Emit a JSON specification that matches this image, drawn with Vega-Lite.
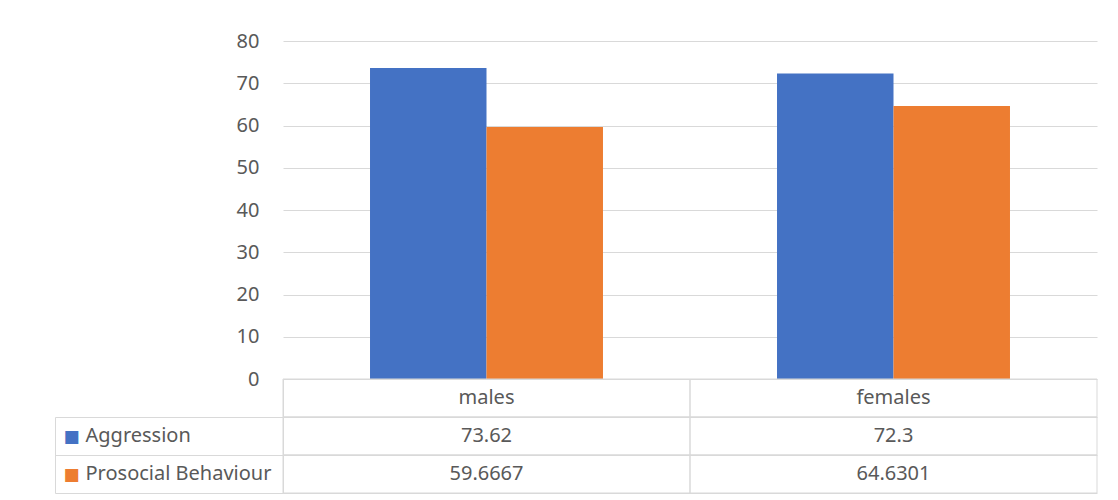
{
  "$schema": "https://vega.github.io/schema/vega-lite/v6.json",
  "autosize": {"type": "none"},
  "padding": {"left": 283, "top": 41, "right": 21, "bottom": 7},
  "width": 814,
  "height": 452,
  "background": "white",
  "config": {"view": {"stroke": null}, "text": {"font": "Noto Sans"}},
  "data": {
    "values": [
      {"category": "males", "series": "Aggression", "value": 73.62},
      {"category": "males", "series": "Prosocial Behaviour", "value": 59.6667},
      {"category": "females", "series": "Aggression", "value": 72.3},
      {"category": "females", "series": "Prosocial Behaviour", "value": 64.6301}
    ]
  },
  "resolve": {"scale": {"y": "independent"}},
  "layer": [
    {
      "mark": {"type": "bar"},
      "encoding": {
        "x": {"field": "category", "type": "nominal", "sort": ["males", "females"], "scale": {"paddingInner": 0, "paddingOuter": 0}, "axis": null},
        "xOffset": {"field": "series", "type": "nominal", "sort": ["Aggression", "Prosocial Behaviour"], "scale": {"paddingInner": 0, "paddingOuter": 0.747}},
        "y": {"field": "value", "type": "quantitative", "scale": {"domain": [0, 80], "range": [338, 0], "nice": false},
          "axis": {"orient": "left", "values": [0, 10, 20, 30, 40, 50, 60, 70, 80], "grid": true, "gridColor": "#d9d9d9", "gridWidth": 1, "domain": false, "ticks": false, "tickSize": 0, "labelPadding": 24, "labelFont": "Noto Sans", "labelFontSize": 20, "labelColor": "#595959", "title": null}},
        "color": {"field": "series", "type": "nominal", "scale": {"domain": ["Aggression", "Prosocial Behaviour"], "range": ["#4472c4", "#ed7d31"]}, "legend": null}
      }
    },
    {
      "layer": [
        {
          "mark": {"type": "rect", "fill": "white", "fillOpacity": 0, "stroke": "#d9d9d9", "strokeWidth": 1},
          "encoding": {
            "x": {"field": "category", "type": "nominal", "sort": ["males", "females"], "axis": null},
            "y": {"field": "series", "type": "nominal", "scale": {"domain": ["header", "Aggression", "Prosocial Behaviour"], "range": [338, 452], "paddingInner": 0, "paddingOuter": 0},
              "axis": {"orient": "left", "bandPosition": 1, "ticks": true, "tickSize": 228, "tickColor": "#d9d9d9", "tickWidth": 1, "grid": true, "gridColor": "#d9d9d9", "gridWidth": 1, "domain": true, "domainColor": "#d9d9d9", "domainWidth": 1, "labelExpr": "datum.value == 'header' ? '' : datum.value", "labelAlign": "left", "labelPadding": -30, "labelLimit": 0, "labelFont": "Noto Sans", "labelFontSize": 20, "labelColor": "#595959", "title": null}}
          }
        },
        {
          "transform": [{"aggregate": [{"op": "count", "as": "n"}], "groupby": ["category"]}],
          "mark": {"type": "rect", "fill": "white", "fillOpacity": 0, "stroke": "#d9d9d9", "strokeWidth": 1},
          "encoding": {
            "x": {"field": "category", "type": "nominal", "sort": ["males", "females"], "axis": null},
            "y": {"datum": "header", "type": "nominal"}
          }
        },
        {
          "transform": [{"aggregate": [{"op": "count", "as": "n"}], "groupby": ["category"]}],
          "mark": {"type": "text", "font": "Noto Sans", "fontSize": 20, "color": "#595959"},
          "encoding": {
            "x": {"field": "category", "type": "nominal", "sort": ["males", "females"], "axis": null},
            "y": {"datum": "header", "type": "nominal"},
            "text": {"field": "category", "type": "nominal"}
          }
        }
      ]
    },
    {
      "mark": {"type": "text", "font": "Noto Sans", "fontSize": 20, "color": "#595959"},
      "encoding": {
        "x": {"field": "category", "type": "nominal", "sort": ["males", "females"], "axis": null},
        "y": {"field": "series", "type": "nominal", "scale": {"domain": ["Aggression", "Prosocial Behaviour"], "range": [376, 452], "paddingInner": 0, "paddingOuter": 0},
          "axis": {"orient": "left", "offset": 228, "domain": true, "domainColor": "#d9d9d9", "domainWidth": 1, "ticks": false, "tickSize": 0, "grid": false, "labelExpr": "'■'", "labelColor": {"condition": {"test": "datum.value == 'Aggression'", "value": "#4472c4"}, "value": "#ed7d31"}, "labelFont": "DejaVu Sans", "labelFontSize": 17, "labelAlign": "left", "labelPadding": -8, "title": null}},
        "text": {"field": "value", "type": "nominal"}
      }
    }
  ]
}
